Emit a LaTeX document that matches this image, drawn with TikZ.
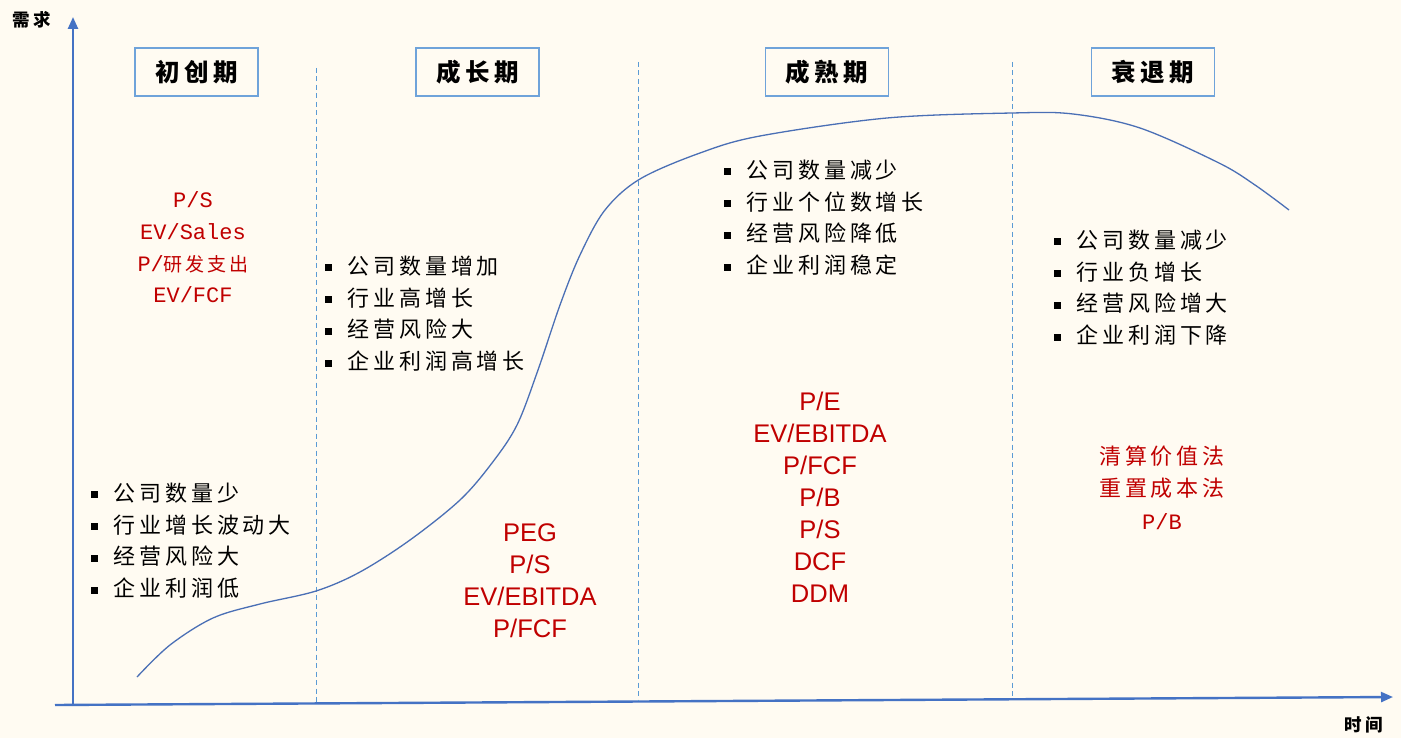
\documentclass[tikz,border=0pt]{standalone}
\usepackage{fontspec}
\setmainfont{Liberation Sans}
\newfontfamily\cjkitem{Noto Sans CJK SC}[LetterSpace=18]
\newfontfamily\cjktitle{Noto Sans CJK SC}[LetterSpace=18]
\newfontfamily\cjkred{Noto Sans CJK SC}[LetterSpace=15]
\newfontfamily\monored{Liberation Mono}
\usetikzlibrary{arrows.meta}
\definecolor{bg}{HTML}{FFFBF2}
\definecolor{axisblue}{HTML}{4472C4}
\definecolor{curveblue}{HTML}{4A6FB5}
\definecolor{dashblue}{HTML}{5B9BD5}
\definecolor{boxblue}{HTML}{6FA3DA}
\definecolor{darkred}{HTML}{C00000}
\newcommand{\bulsq}{\raisebox{3pt}{\rule{7pt}{7pt}}\hspace{15pt}}
\tikzset{
  axisline/.style={draw=axisblue, line width=2.4pt, -{Triangle[length=12pt,width=10pt]}},
  divline/.style={draw=dashblue, line width=1pt, dash pattern=on 5pt off 3.5pt},
  ttl/.style={draw=boxblue, line width=1.5pt, fill=bg, minimum width=123pt, minimum height=48pt, inner sep=0pt, font=\cjktitle\fontsize{24.5}{28}\selectfont\bfseries},
  axl/.style={inner sep=0pt, font=\cjktitle\fontsize{17.5}{20}\selectfont\bfseries},
  item/.style={anchor=west, inner sep=0pt, font=\cjkitem\fontsize{22}{26}\selectfont},
  redarial/.style={align=center, text=darkred, inner sep=0pt, font=\fontsize{25.5}{32}\selectfont},
  redmono/.style={align=center, text=darkred, inner sep=0pt, font=\monored\fontsize{22}{31.6}\selectfont},
  redcjk/.style={align=center, text=darkred, inner sep=0pt, font=\cjkitem\fontsize{22}{32.5}\selectfont},
}
\begin{document}
\begin{tikzpicture}[x=1pt,y=-1pt]
\useasboundingbox[fill=bg] (0,0) rectangle (1401,738);
% axes
\coordinate (O) at (73,706);
\coordinate (Ytop) at (73,17);
\coordinate (Xl) at (55,705);
\coordinate (Xr) at (1393,697);
\draw[axisline] (O) -- (Ytop);
\draw[axisline] (Xl) -- (Xr);
\node[axl] (ylab) at (32,20) {需求};
\node[axl] (xlab) at (1364,725) {时间};
% dividers
\coordinate (d1t) at (316,68); \coordinate (d1b) at (316,702);
\coordinate (d2t) at (638,62); \coordinate (d2b) at (638,700);
\coordinate (d3t) at (1012,62); \coordinate (d3b) at (1012,697);
\draw[divline] (d1t) -- (d1b);
\draw[divline] (d2t) -- (d2b);
\draw[divline] (d3t) -- (d3b);
% curve
\draw[curveblue, line width=1.3pt] plot[smooth, tension=0.55] coordinates {
 (137,677) (170,645) (213,618) (260,604) (316,591) (360,572) (410,540) (460,500)
 (492,463) (517,425) (538,370) (560,305) (580,255) (605,210) (640,179) (700,153)
 (760,136) (887,118) (1012,113) (1073,114) (1140,128) (1219,163) (1255,185) (1289,210)};
% titles
\node[ttl] (t1) at (196.5,72) {初创期};
\node[ttl] (t2) at (477.5,72) {成长期};
\node[ttl] (t3) at (827,72) {成熟期};
\node[ttl] (t4) at (1153,72) {衰退期};
% bullet lists
\foreach \t [count=\i] in {公司数量少,行业增长波动大,经营风险大,企业利润低}
  \node[item] (a\i) at (91,{493+31.7*(\i-1)}) {\bulsq\t};
\foreach \t [count=\i] in {公司数量增加,行业高增长,经营风险大,企业利润高增长}
  \node[item] (b\i) at (325,{266+31.7*(\i-1)}) {\bulsq\t};
\foreach \t [count=\i] in {公司数量减少,行业个位数增长,经营风险降低,企业利润稳定}
  \node[item] (c\i) at (724,{170+31.7*(\i-1)}) {\bulsq\t};
\foreach \t [count=\i] in {公司数量减少,行业负增长,经营风险增大,企业利润下降}
  \node[item] (e\i) at (1054,{240+31.7*(\i-1)}) {\bulsq\t};
% valuation methods
\node[redmono] (v1) at (193,247.5) {P/S\\EV/Sales\\P/{\cjkred\fontsize{19}{31.6}\selectfont 研发支出}\\EV/FCF};
\node[redarial] (v2) at (530,581) {PEG\\P/S\\EV/EBITDA\\P/FCF};
\node[redarial] (v3) at (820,497) {P/E\\EV/EBITDA\\P/FCF\\P/B\\P/S\\DCF\\DDM};
\node[redcjk] (v4) at (1162,487.5) {清算价值法\\重置成本法\\{\monored\fontsize{22}{32.5}\selectfont P/B}};
\end{tikzpicture}
\end{document}
